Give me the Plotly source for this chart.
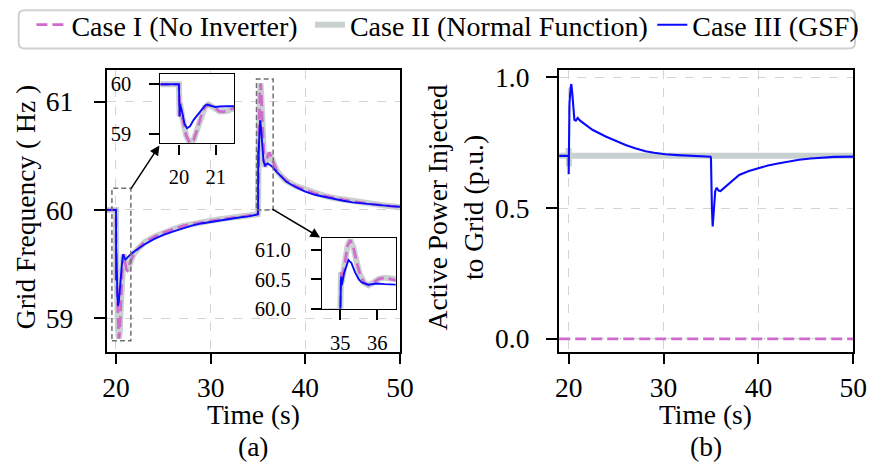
import plotly.graph_objects as go

# ---------------- data ----------------
t_freq_12 = [19.0, 19.98, 20.0, 20.02, 20.03, 20.1, 20.2, 20.3, 20.4, 20.5, 20.6, 20.7, 20.8,
             20.9, 21.0, 21.1, 21.2, 21.3, 21.4, 21.5, 21.75, 22.0, 22.5, 23.0, 24.0, 25.0,
             26.0, 27.0, 28.0, 29.0, 30.0, 31.0, 32.0, 33.0, 34.0, 34.98, 35.0, 35.02, 35.04,
             35.1, 35.2, 35.27, 35.35, 35.45, 35.53, 35.65, 35.76, 35.9, 36.05, 36.2, 36.35,
             36.5, 36.75, 37.0, 37.5, 38.0, 39.0, 40.0, 41.0, 42.0, 43.0, 44.0, 45.0, 46.0,
             47.0, 48.0, 49.0, 50.0]
freq_case1 = [60.0, 60.0, 60.0, 59.35, 59.62, 59.3, 58.95, 58.81, 58.87, 59.1, 59.35, 59.53, 59.59,
              59.56, 59.5, 59.45, 59.44, 59.46, 59.49, 59.52, 59.57, 59.61, 59.66, 59.7, 59.75, 59.79,
              59.82, 59.85, 59.87, 59.885, 59.9, 59.915, 59.925, 59.935, 59.945, 59.96, 59.97, 60.62, 60.45,
              60.7, 61.08, 61.17, 61.05, 60.78, 60.59, 60.44, 60.4, 60.45, 60.51, 60.53, 60.5,
              60.46, 60.41, 60.36, 60.31, 60.27, 60.22, 60.185, 60.155, 60.13, 60.11, 60.095, 60.08, 60.065,
              60.055, 60.045, 60.035, 60.025]
freq_case2 = list(freq_case1)

t_freq_3 = [19.0, 19.98, 20.0, 20.02, 20.03, 20.1, 20.15, 20.22, 20.3, 20.4, 20.5, 20.6, 20.7,
            20.75, 20.85, 20.98, 21.1, 21.3, 21.5, 22.0, 22.5, 23.0, 24.0, 25.0, 26.0, 27.0,
            28.0, 29.0, 30.0, 31.0, 32.0, 33.0, 34.0, 34.98, 35.0, 35.02, 35.04, 35.1, 35.22,
            35.3, 35.4, 35.5, 35.58, 35.76, 35.98, 36.2, 36.5, 37.0, 37.5, 38.0, 39.0, 40.0,
            41.0, 42.0, 43.0, 44.0, 45.0, 46.0, 47.0, 48.0, 49.0, 50.0]
freq_case3 = [60.0, 60.0, 60.0, 59.35, 59.6, 59.4, 59.2, 59.11, 59.15, 59.28, 59.38, 59.47, 59.56,
              59.59, 59.57, 59.54, 59.55, 59.57, 59.585, 59.62, 59.65, 59.68, 59.73, 59.77, 59.8, 59.83,
              59.855, 59.875, 59.89, 59.905, 59.92, 59.93, 59.94, 59.955, 59.96, 60.55, 60.4, 60.6, 60.83,
              60.78, 60.62, 60.5, 60.45, 60.41, 60.43, 60.42, 60.4, 60.35, 60.3, 60.26, 60.21, 60.17,
              60.14, 60.12, 60.1, 60.085, 60.07, 60.06, 60.05, 60.045, 60.035, 60.03]

t_power_1 = [19.0, 50.0]
power_case1 = [0.0, 0.0]

t_power_2 = [19.0, 19.99, 20.0, 20.02, 20.04, 50.0]
power_case2 = [0.70, 0.70, 0.73, 0.66, 0.70, 0.70]

t_power_3 = [19.0, 19.99, 20.0, 20.03, 20.08, 20.2, 20.28, 20.4, 20.5, 20.6, 20.75, 20.95, 21.2,
             21.8, 22.5, 23.9, 25.0, 26.0, 27.0, 28.1, 29.0, 30.2, 31.5, 32.7, 34.95, 35.0,
             35.03, 35.06, 35.1, 35.18, 35.3, 35.45, 35.6, 35.8, 36.0, 36.3, 36.6, 37.0, 37.97,
             39.0, 40.07, 41.0, 42.2, 43.3, 44.3, 45.5, 46.7, 48.0, 50.0]
power_case3 = [0.70, 0.70, 0.63, 0.89, 0.90, 0.96, 0.975, 0.93, 0.87, 0.838, 0.835, 0.845, 0.835,
               0.82, 0.80, 0.774, 0.756, 0.742, 0.729, 0.718, 0.712, 0.706, 0.703, 0.70, 0.697, 0.69,
               0.55, 0.58, 0.50, 0.43, 0.50, 0.565, 0.578, 0.567, 0.565, 0.575, 0.583, 0.595, 0.627,
               0.642, 0.653, 0.663, 0.672, 0.679, 0.685, 0.69, 0.694, 0.696, 0.697]

series_names = ["Case I (No Inverter)", "Case II (Normal Function)", "Case III (GSF)"]
time_ticks = [20, 30, 40, 50]
freq_ticks = [59, 60, 61]
power_ticks = [0.0, 0.5, 1.0]
inset1_xticks = [20, 21]
inset1_yticks = [59, 60]
inset2_xticks = [35, 36]
inset2_yticks = [60.0, 60.5, 61.0]

# ---------------- layout geometry ----------------
W, H = 870, 471
FONT = "Liberation Serif"
C1 = "#d06acd"
C2 = "#c3cccb"
C3 = "#0a0aff"
GRID = "#d4d4d4"

# target positions are given in picture pixels; the captured picture was found to be
# slightly shrunk/offset relative to the page, so map picture px -> page px first
SX, BX, SY, BY = 0.981, 3.3, 0.957, 8.6


def gx(p):
    return (p - BX) / SX


def gy(p):
    return (p - BY) / SY


def px_x(p):
    return gx(p) / W


def px_y(p):
    return 1 - gy(p) / H


def raw_y(p):
    return 1 - p / H


fig = go.Figure()

panels = [("x", "y"), ("x3", "y3"), ("x4", "y4")]
for i, (xa, ya) in enumerate(panels):
    main = i == 0
    fig.add_trace(go.Scatter(x=t_freq_12, y=freq_case2, mode="lines", name=series_names[1],
                             line=dict(color=C2, width=6), opacity=0.9, xaxis=xa, yaxis=ya,
                             showlegend=main, legend="legend2"))
    fig.add_trace(go.Scatter(x=t_freq_12, y=freq_case1, mode="lines", name=series_names[0],
                             line=dict(color=C1, width=2.7, dash="11px,5px"), xaxis=xa, yaxis=ya,
                             showlegend=main, legend="legend"))
    fig.add_trace(go.Scatter(x=t_freq_3, y=freq_case3, mode="lines", name=series_names[2],
                             line=dict(color=C3, width=1.9), xaxis=xa, yaxis=ya,
                             showlegend=main, legend="legend3"))

fig.add_trace(go.Scatter(x=t_power_2, y=power_case2, mode="lines", name=series_names[1],
                         line=dict(color=C2, width=6), opacity=0.9, xaxis="x2", yaxis="y2", showlegend=False))
fig.add_trace(go.Scatter(x=t_power_1, y=power_case1, mode="lines", name=series_names[0],
                         line=dict(color=C1, width=2.7, dash="11px,5px"), xaxis="x2", yaxis="y2", showlegend=False))
fig.add_trace(go.Scatter(x=t_power_3, y=power_case3, mode="lines", name=series_names[2],
                         line=dict(color=C3, width=2.1), xaxis="x2", yaxis="y2", showlegend=False))

tickfont = dict(family=FONT, size=27.5, color="black")
insetfont = dict(family=FONT, size=20.5, color="black")

main_axis = dict(showline=True, mirror=True, linecolor="black", linewidth=1.5,
                 ticks="outside", ticklen=11, tickwidth=2, tickcolor="black",
                 showgrid=True, gridcolor=GRID, gridwidth=1, griddash="dash",
                 zeroline=False, tickfont=tickfont)
inset_axis = dict(showline=True, mirror=True, linecolor="black", linewidth=1.2,
                  ticks="outside", ticklen=10, tickwidth=2, tickcolor="black",
                  showgrid=False, zeroline=False, tickfont=insetfont)

yd = [px_y(351), px_y(70)]
fig.update_layout(
    width=W, height=H,
    margin=dict(l=0, r=0, t=0, b=0),
    paper_bgcolor="white", plot_bgcolor="white",
    font=dict(family=FONT, size=27.5, color="black"),
    xaxis=dict(main_axis, domain=[px_x(106), px_x(400)], range=[19, 50], tickvals=time_ticks,
               anchor="y", ticklabelstandoff=0),
    yaxis=dict(main_axis, domain=yd, range=[58.69, 61.29], tickvals=freq_ticks, anchor="x",
               ticklabelstandoff=15),
    xaxis2=dict(main_axis, domain=[px_x(559), px_x(854)], range=[18.95, 50], tickvals=time_ticks,
                anchor="y2", ticklabelstandoff=0),
    yaxis2=dict(main_axis, domain=yd, range=[-0.049, 1.027], tickvals=power_ticks, tickformat=".1f",
                anchor="x2", ticklabelstandoff=11),
    xaxis3=dict(inset_axis, domain=[px_x(160), px_x(234)], range=[19.5, 21.5], tickvals=inset1_xticks,
                anchor="y3", ticklabelstandoff=5),
    yaxis3=dict(inset_axis, domain=[px_y(143), px_y(74)], range=[58.8, 60.2], tickvals=inset1_yticks,
                anchor="x3", ticklabelstandoff=14),
    xaxis4=dict(inset_axis, domain=[px_x(321.7), px_x(395.7)], range=[34.5, 36.5], tickvals=inset2_xticks,
                anchor="y4", ticklabelstandoff=5),
    yaxis4=dict(inset_axis, domain=[px_y(308.3), px_y(237.7)], range=[60.0, 61.2], tickvals=inset2_yticks,
                tickformat=".1f", anchor="x4", ticklabelstandoff=16),
)

# legends: one per entry; text starts 40 px right of each legend's x
legfont = dict(family=FONT, size=28, color="black")
leg_top = raw_y(gy(25) - 27)
leg_common = dict(orientation="h", yanchor="top", y=leg_top, xanchor="left",
                  bgcolor="rgba(0,0,0,0)", borderwidth=0, font=legfont, itemwidth=30)
fig.update_layout(
    legend=dict(leg_common, x=(gx(70) - 40) / W),
    legend2=dict(leg_common, x=(gx(349) - 40) / W),
    legend3=dict(leg_common, x=(W - 168 - 40) / W),
)

shapes = []
x0, x1, y0, y1, r = gx(18) / W, 869 / W, px_y(48), raw_y(1.2), 6
rx, ry = r / W, r / H
path = (f"M {x0+rx},{y1} L {x1-rx},{y1} Q {x1},{y1} {x1},{y1-ry} L {x1},{y0+ry} Q {x1},{y0} {x1-rx},{y0} "
        f"L {x0+rx},{y0} Q {x0},{y0} {x0},{y0+ry} L {x0},{y1-ry} Q {x0},{y1} {x0+rx},{y1} Z")
shapes.append(dict(type="path", path=path, xref="paper", yref="paper",
                   line=dict(color="#d0d0d0", width=2), fillcolor="rgba(255,255,255,0)", layer="above"))
shapes.append(dict(type="rect", xref="x3", yref="y3", x0=19.5, x1=21.5, y0=58.8, y1=60.2,
                   fillcolor="white", line=dict(width=0), layer="below"))
shapes.append(dict(type="rect", xref="x4", yref="y4", x0=34.5, x1=36.5, y0=60.0, y1=61.2,
                   fillcolor="white", line=dict(width=0), layer="below"))
shapes.append(dict(type="rect", xref="x", yref="y", x0=19.57, x1=21.57, y0=58.79, y1=60.2,
                   line=dict(color="#707070", width=1.5, dash="5px,3px"), layer="above"))
shapes.append(dict(type="rect", xref="x", yref="y", x0=34.84, x1=36.6, y0=60.0, y1=61.21,
                   line=dict(color="#707070", width=1.5, dash="5px,3px"), layer="above"))
fig.update_layout(shapes=shapes)

ann = []
for (tx, ty), (hx, hy) in [((130, 188), (159, 145)), ((271.7, 209), (320, 237))]:
    ann.append(dict(xref="paper", yref="paper", x=px_x(hx), y=px_y(hy),
                    ax=gx(tx) - gx(hx), ay=gy(ty) - gy(hy),
                    text="", showarrow=True, arrowhead=2, arrowsize=1.3, arrowwidth=1.5, arrowcolor="black"))
tf = dict(family=FONT, size=27.5, color="black")
for cx, lab in [(253, "(a)"), (706.5, "(b)")]:
    ann.append(dict(xref="paper", yref="paper", x=px_x(cx), y=raw_y(423), text="Time (s)",
                    showarrow=False, font=tf, xanchor="center", yanchor="middle"))
    ann.append(dict(xref="paper", yref="paper", x=px_x(cx), y=raw_y(457), text=lab,
                    showarrow=False, font=tf, xanchor="center", yanchor="middle"))
ann.append(dict(xref="paper", yref="paper", x=px_x(25), y=px_y(207), text="Grid Frequency ( Hz )",
                textangle=-90, showarrow=False, font=tf, xanchor="center", yanchor="middle"))
ann.append(dict(xref="paper", yref="paper", x=px_x(456), y=px_y(207),
                text="Active Power Injected<br>to Grid (p.u.)",
                textangle=-90, showarrow=False, font=tf, xanchor="center", yanchor="middle"))
fig.update_layout(annotations=ann)

fig.write_html("out.html", config={"displayModeBar": False},
               post_script="document.body.style.margin='0';document.body.style.overflow='hidden';")
